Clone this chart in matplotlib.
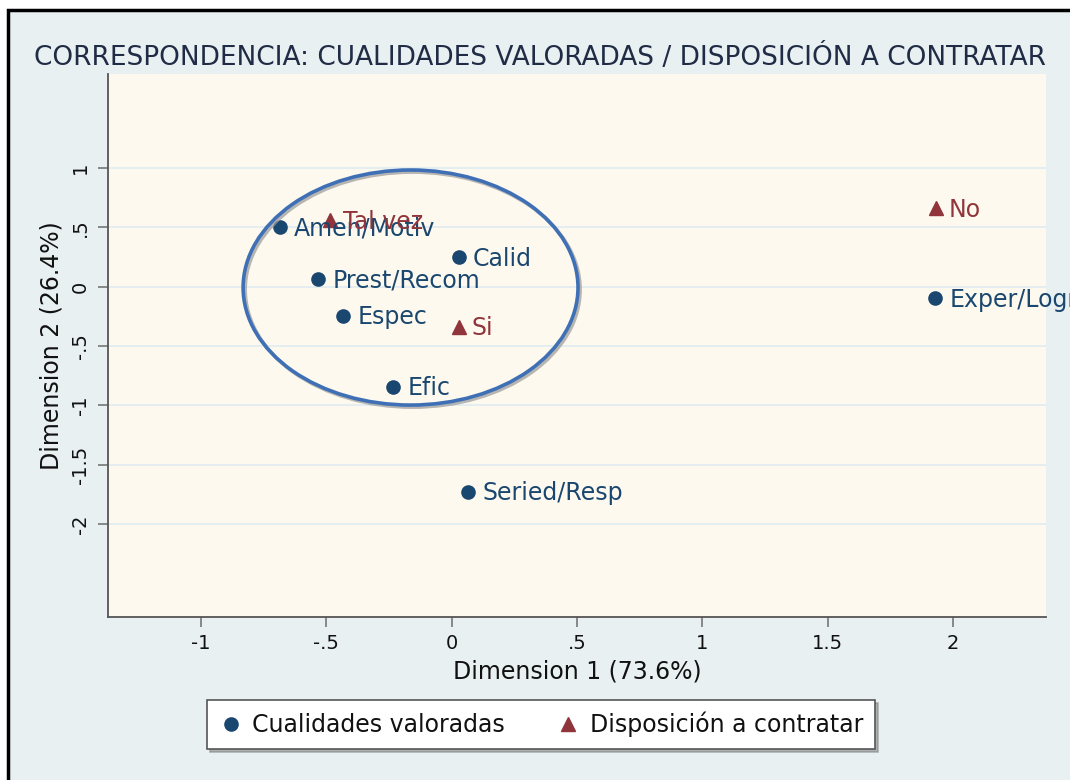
import numpy as np
import matplotlib
matplotlib.use('Agg')
import matplotlib.pyplot as plt
from matplotlib.patches import Ellipse, Rectangle
from matplotlib.lines import Line2D
import matplotlib.patheffects as pe

# puntos fila: cualidades valoradas
cual_labels = ['Amen/Motiv', 'Calid', 'Prest/Recom', 'Espec', 'Efic', 'Seried/Resp', 'Exper/Logro']
cual_x = [-0.685, 0.030, -0.532, -0.432, -0.233, 0.066, 1.930]
cual_y = [0.499, 0.246, 0.061, -0.245, -0.842, -1.725, -0.098]

# puntos columna: disposicion a contratar
disp_labels = ['Tal vez', 'Si', 'No']
disp_x = [-0.485, 0.030, 1.933]
disp_y = [0.560, -0.337, 0.658]

xticks = [-1, -0.5, 0, 0.5, 1, 1.5, 2]
xtick_labels = ['-1', '-.5', '0', '.5', '1', '1.5', '2']
yticks = [1, 0.5, 0, -0.5, -1, -1.5, -2]
ytick_labels = ['1', '.5', '0', '-.5', '-1', '-1.5', '-2']

navy = '#1A476F'
maroon = '#90353B'
W, H = 1070, 780

fig = plt.figure(figsize=(10.7, 7.8), dpi=100, facecolor='white')
# fondo del grafico con borde negro (recortado a derecha y abajo)
fig.add_artist(Rectangle((8 / W, -0.1), 1.2, 1 - 10 / H + 0.1, transform=fig.transFigure,
                         facecolor='#E8F0F2', edgecolor='black', linewidth=2.5, zorder=0))

ax = fig.add_axes([108 / W, 1 - 617 / H, (1046 - 108) / W, (617 - 74) / H])
ax.set_facecolor('#FDF9EE')
ax.set_xlim(-1.371, 2.371)
ax.set_ylim(-2.779, 1.788)

for s in ['top', 'right']:
    ax.spines[s].set_visible(False)
for s in ['left', 'bottom']:
    ax.spines[s].set_color('#555555')
    ax.spines[s].set_linewidth(1.3)

ax.set_xticks(xticks)
ax.set_xticklabels(xtick_labels)
ax.set_yticks(yticks)
ax.set_yticklabels(ytick_labels, rotation=90, va='center')
ax.tick_params(axis='both', length=7, width=1.2, color='#777777', labelsize=14, labelcolor='#111111')
ax.tick_params(axis='x', pad=5)
ax.tick_params(axis='y', pad=6)
ax.yaxis.grid(True, color='#E4EDF0', linewidth=1.4)
ax.set_axisbelow(True)

ax.set_xlabel('Dimension 1 (73.6%)', fontsize=17, color='#111111', va='center')
ax.xaxis.set_label_coords(0.5, (617 - 671) / (617 - 74))
ax.set_ylabel('Dimension 2 (26.4%)', fontsize=17, color='#111111', va='center')
ax.yaxis.set_label_coords((52 - 108) / (1046 - 108), 0.5)

ax.plot(cual_x, cual_y, 'o', color=navy, markersize=9.5, linestyle='none',
        label='Cualidades valoradas', zorder=3)
ax.plot(disp_x, disp_y, '^', color=maroon, markersize=10.5, linestyle='none',
        label='Disposición a contratar', zorder=3)

for lab, x, y in zip(cual_labels, cual_x, cual_y):
    ax.annotate(lab, (x, y), xytext=(10, -6.2), textcoords='offset points',
                fontsize=17, color=navy, va='baseline', ha='left', zorder=4)
for lab, x, y in zip(disp_labels, disp_x, disp_y):
    ax.annotate(lab, (x, y), xytext=(9, -6.2), textcoords='offset points',
                fontsize=17, color=maroon, va='baseline', ha='left', zorder=4)

# elipse dibujada encima del grupo
ell = Ellipse((-0.164, -0.008), 1.336, 1.977, fill=False, edgecolor='#3F70B6', linewidth=2.6, zorder=5)
ell.set_path_effects([pe.SimpleLineShadow(offset=(1.5, -1.5), shadow_color='#999999', alpha=0.7),
                      pe.Normal()])
ax.add_patch(ell)

leg = ax.legend(loc='center', bbox_to_anchor=(541 / W, 1 - 724.5 / H), bbox_transform=fig.transFigure,
                ncol=2, fontsize=17, frameon=True, fancybox=False, edgecolor='#555555', framealpha=1,
                borderpad=0.5, handlelength=1.0, handletextpad=0.4, columnspacing=2.2,
                shadow={'color': '#888888', 'alpha': 0.6})
leg.get_frame().set_linewidth(1.2)
for t in leg.get_texts():
    t.set_color('#111111')

fig.text(540 / W, 1 - 65 / H, 'CORRESPONDENCIA: CUALIDADES VALORADAS / DISPOSICIÓN A CONTRATAR',
         fontsize=19, color='#202B45', ha='center', va='baseline')

fig.savefig('out.png', dpi=100, facecolor=fig.get_facecolor())
